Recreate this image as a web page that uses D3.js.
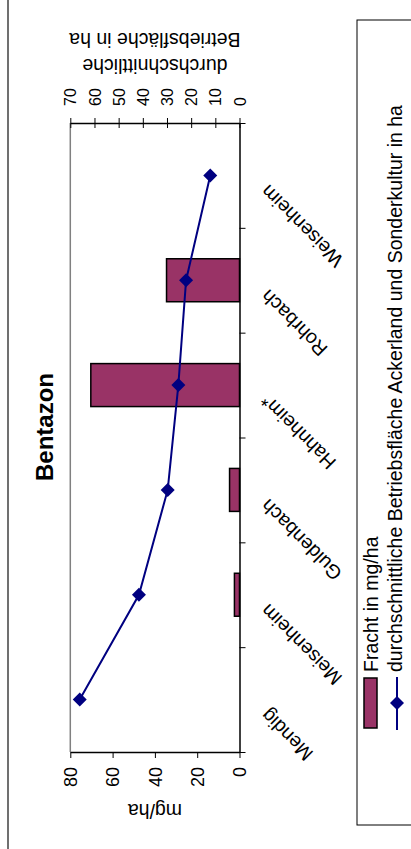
<!DOCTYPE html>
<html>
<head>
<meta charset="utf-8">
<script src="https://cdn.jsdelivr.net/npm/d3@7"></script>
<style>
  html, body { margin: 0; padding: 0; background: #fff; }
  svg { display: block; font-family: "Liberation Sans", Arial, sans-serif; }
</style>
</head>
<body>
<svg id="chart" width="411" height="849"></svg>
<script>
// Sampling sites, in axis order (Mendig at the bottom, Weisenheim at the top)
const categories = ["Mendig", "Meisenheim", "Guldenbach", "Hahnheim*", "Rohrbach", "Weisenheim"];
// Bentazon load per site, mg/ha
const frachtMgHa = [0, 2.4, 4.7, 70.3, 34.5, 0];
// Average farm area (arable land and special crops), ha
const flaecheHa = [66.1, 41.6, 29.7, 25.3, 22.1, 12.1];
const mgTicks = [0, 20, 40, 60, 80];
const haTicks = [0, 10, 20, 30, 40, 50, 60, 70];
const chartTitle = "Bentazon";
const mgAxisTitle = "mg/ha";
const haAxisTitle = ["durchschnittliche", "Betriebsfläche in ha"];
const legendLabels = ["Fracht in mg/ha", "durchschnittliche Betriebsfläche Ackerland und Sonderkultur in ha"];

const BAR_FILL = "#993366";
const LINE_COLOR = "#000080";
const plot = { left: 70.3, right: 239.5, top: 123, bottom: 752 };

const svg = d3.select("#chart");

// chart frame edge
svg.append("line")
  .attr("x1", 8).attr("x2", 8).attr("y1", 0).attr("y2", 849)
  .attr("stroke", "#404040").attr("stroke-width", 1.5);

// scales: categories run bottom-to-top, values grow toward the left
const y = d3.scaleBand().domain(categories).range([plot.bottom, plot.top]);
const yBar = d3.scaleBand().domain(categories).range([plot.bottom, plot.top])
  .paddingInner(0.59).paddingOuter(0.295);
const xMg = d3.scaleLinear().domain([0, 80]).range([plot.right, plot.left]);
const xHa = d3.scaleLinear().domain([0, 70]).range([plot.right, plot.left]);
const yBound = d3.scaleLinear().domain([0, categories.length]).range([plot.bottom, plot.top]);

// plot area border (grey far edge)
svg.append("line")
  .attr("x1", plot.left).attr("x2", plot.left).attr("y1", plot.top).attr("y2", plot.bottom)
  .attr("stroke", "#808080").attr("stroke-width", 1.5);

// bars: load in mg/ha
const barData = categories.map((c, i) => ({ c, v: frachtMgHa[i] })).filter(d => d.v > 0);
svg.append("g").selectAll("rect").data(barData).join("rect")
  .attr("x", d => xMg(d.v))
  .attr("y", d => yBar(d.c))
  .attr("width", d => xMg(0) - xMg(d.v))
  .attr("height", yBar.bandwidth())
  .attr("fill", BAR_FILL)
  .attr("stroke", "#000")
  .attr("stroke-width", 1.5);

// bottom axis: mg/ha
const gMg = svg.append("g")
  .attr("transform", `translate(0,${plot.bottom})`)
  .call(d3.axisBottom(xMg).tickValues(mgTicks).tickSize(6).tickSizeOuter(0).tickFormat(d3.format("d")));
gMg.select(".domain").attr("stroke", "#000").attr("stroke-width", 1.5);
gMg.selectAll(".tick line").attr("stroke", "#000");
gMg.selectAll(".tick text")
  .attr("transform", "rotate(-90)")
  .attr("x", -15).attr("y", 0).attr("dy", "0.35em")
  .attr("text-anchor", "end")
  .attr("font-size", 18).attr("fill", "#000");
gMg.attr("font-family", null);

// top axis: ha
const gHa = svg.append("g")
  .attr("transform", `translate(0,${plot.top})`)
  .call(d3.axisTop(xHa).tickValues(haTicks).tickSize(5).tickSizeOuter(0).tickFormat(d3.format("d")));
gHa.select(".domain").attr("stroke", "#000").attr("stroke-width", 1.5);
gHa.selectAll(".tick line").attr("stroke", "#000").attr("y1", 5).attr("y2", -5);
gHa.selectAll(".tick text")
  .attr("transform", "rotate(-90)")
  .attr("x", 17).attr("y", 0).attr("dy", "0.35em")
  .attr("text-anchor", "start")
  .attr("font-size", 16).attr("fill", "#000");
gHa.attr("font-family", null);

// category axis with ticks on band boundaries
const gCat = svg.append("g")
  .attr("transform", `translate(${plot.right},0)`)
  .call(d3.axisRight(yBound).tickValues(d3.range(categories.length + 1)).tickSize(6).tickSizeOuter(0).tickFormat(""));
gCat.select(".domain").attr("stroke", "#000").attr("stroke-width", 1.5);
gCat.selectAll(".tick line").attr("stroke", "#000");

// category labels, slanted
svg.append("g").selectAll("text").data(categories).join("text")
  .attr("transform", d => `translate(269,${y(d) + y.bandwidth() / 2 + 8}) rotate(-135)`)
  .attr("text-anchor", "end")
  .attr("font-size", 19.5)
  .attr("fill", "#000")
  .text(d => d);

// line: average farm area
const lineData = categories.map((c, i) => ({ c, v: flaecheHa[i] }));
svg.append("path")
  .datum(lineData)
  .attr("fill", "none")
  .attr("stroke", LINE_COLOR)
  .attr("stroke-width", 2)
  .attr("d", d3.line().x(d => xHa(d.v)).y(d => y(d.c) + y.bandwidth() / 2));

const diamond = d3.symbol().type(d3.symbolSquare).size(98);
svg.append("g").selectAll("path").data(lineData).join("path")
  .attr("d", diamond)
  .attr("transform", d => `translate(${xHa(d.v)},${y(d.c) + y.bandwidth() / 2}) rotate(45)`)
  .attr("fill", LINE_COLOR);

// chart title
svg.append("text")
  .attr("transform", "translate(53,427) rotate(-90)")
  .attr("text-anchor", "middle")
  .attr("font-size", 24)
  .attr("font-weight", "bold")
  .text(chartTitle);

// axis titles
const midX = (plot.left + plot.right) / 2;
svg.append("text")
  .attr("transform", `translate(${midX},804) rotate(180)`)
  .attr("text-anchor", "middle")
  .attr("font-size", 19.5)
  .text(mgAxisTitle);

const haTitleBaselines = [59, 33];
haAxisTitle.forEach((t, i) => {
  svg.append("text")
    .attr("transform", `translate(${midX},${haTitleBaselines[i]}) rotate(180)`)
    .attr("text-anchor", "middle")
    .attr("font-size", 19.5)
    .text(t);
});

// legend
const legend = svg.append("g");
legend.append("rect")
  .attr("x", 357).attr("y", 20).attr("width", 120).attr("height", 805)
  .attr("fill", "#fff").attr("stroke", "#000").attr("stroke-width", 1);
legend.append("rect")
  .attr("x", 364).attr("y", 678).attr("width", 13).attr("height", 50)
  .attr("fill", BAR_FILL).attr("stroke", "#000").attr("stroke-width", 1.5);
legend.append("line")
  .attr("x1", 397).attr("x2", 397).attr("y1", 677).attr("y2", 730)
  .attr("stroke", LINE_COLOR).attr("stroke-width", 2);
legend.append("path")
  .attr("d", diamond)
  .attr("transform", "translate(397,703) rotate(45)")
  .attr("fill", LINE_COLOR);
const legendBaselines = [378, 402];
legendLabels.forEach((t, i) => {
  legend.append("text")
    .attr("transform", `translate(${legendBaselines[i]},672) rotate(-90)`)
    .attr("text-anchor", "start")
    .attr("font-size", 19.5)
    .text(t);
});
</script>
</body>
</html>
